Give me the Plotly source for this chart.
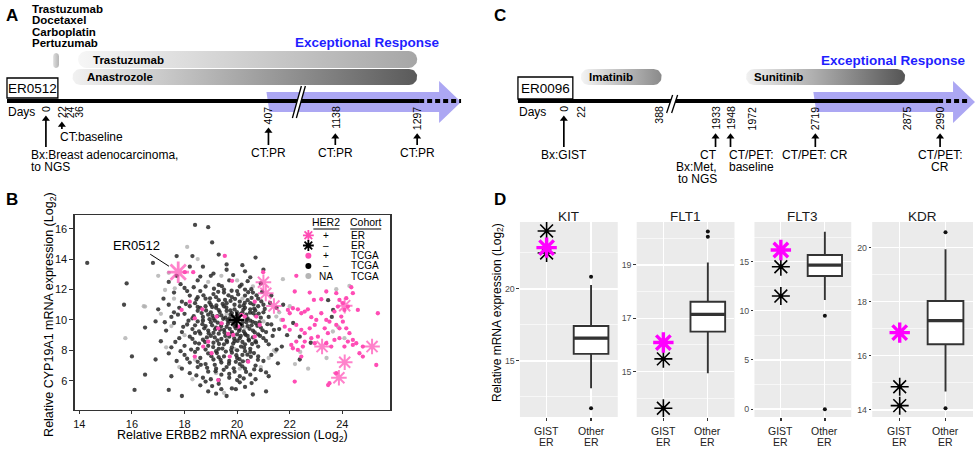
import numpy as np
import plotly.graph_objects as go

FONT = "Liberation Sans, Arial, Helvetica, sans-serif"
PINK = "#ff4db5"
MAGENTA = "#ff00ff"
BLUE = "#1f1fff"
LAV = "#aca7f3"

# ======================= DATA =======================
# ---- Panel A (ER0512 timeline) ----
A_ID = "ER0512"
A_CHEMO = ["Trastuzumab", "Docetaxel", "Carboplatin", "Pertuzumab"]
A_TICK_DAYS = [0, 22, 24, 36, 407, 1138, 1297]
A_EVENT_DAYS = [0, 22, 407, 1138, 1297]
A_EVENT_TEXT = [["Bx:Breast adenocarcinoma,", "to NGS"], ["CT:baseline"], ["CT:PR"], ["CT:PR"], ["CT:PR"]]
A_TREAT_NAME = ["", "Trastuzumab", "Anastrozole"]
A_TREAT_START = [10, 35, 27]
A_TREAT_END = [18, 1297, 1297]
A_RESPONSE_START = 407

# ---- Panel C (ER0096 timeline) ----
C_ID = "ER0096"
C_TICK_DAYS = [0, 22, 388, 1933, 1948, 1972, 2719, 2875, 2990]
C_EVENT_DAYS = [0, 1933, 1948, 2719, 2990]
C_EVENT_TEXT = [["Bx:GIST"], ["CT", "Bx:Met,", "to NGS"], ["CT/PET:", "baseline"], ["CT/PET: CR"], ["CT/PET:", "CR"]]
C_TREAT_NAME = ["Imatinib", "Sunitinib"]
C_TREAT_START = [22, 1965]
C_TREAT_END = [388, 2875]
C_RESPONSE_START = 2719

# ---- Panel B scatter (ERBB2 x, CYP19A1 y) ----
TCGA_NEG = [
    (14.3, 13.75), (16.8, 13.75), (18.4, 16.25), (18.9, 16.1), (19.05, 15.1), (19.3, 14.3), (18.3, 14.2),
    (19.6, 13.3), (20.7, 14.1), (20.2, 13.6), (21.0, 13.3), (18.7, 13.5), (17.7, 14.2),
    (15.8, 12.4), (17.4, 12.5), (18.0, 12.1), (18.5, 12.6), (19.0, 12.9), (19.3, 12.3), (19.7, 12.6),
    (20.1, 12.2), (20.5, 12.8), (20.9, 12.4), (18.8, 12.2), (19.5, 12.0), (20.3, 12.0), (17.7, 12.9),
    (15.7, 11.0), (17.2, 11.4), (17.6, 11.8), (17.9, 11.2), (18.2, 11.6), (18.4, 11.1), (18.6, 11.9),
    (18.8, 11.4), (19.0, 11.0), (19.1, 11.7), (19.3, 11.3), (19.5, 11.8), (19.6, 11.1), (19.8, 11.5),
    (20.0, 11.9), (20.1, 11.2), (20.3, 11.6), (20.5, 11.1), (20.6, 11.8), (20.8, 11.4), (21.0, 11.0),
    (21.3, 11.6), (18.1, 11.9), (19.9, 11.0), (20.4, 11.3), (19.2, 11.5), (18.5, 11.5), (17.4, 11.0),
    (17.0, 10.7), (17.5, 10.2), (17.8, 10.8), (18.0, 10.4), (18.2, 10.9), (18.3, 10.1), (18.5, 10.6),
    (18.7, 10.2), (18.8, 10.9), (19.0, 10.5), (19.1, 10.1), (19.2, 10.8), (19.4, 10.3), (19.5, 10.9),
    (19.6, 10.6), (19.7, 10.1), (19.9, 10.7), (20.0, 10.3), (20.1, 10.9), (20.2, 10.5), (20.4, 10.1),
    (20.5, 10.7), (20.7, 10.3), (20.8, 10.9), (21.0, 10.5), (21.2, 10.2), (21.5, 10.8), (18.9, 10.35),
    (19.3, 10.65), (19.8, 10.45), (20.3, 10.8), (20.6, 10.45), (18.6, 10.8), (17.6, 10.5), (19.05, 10.85),
    (20.9, 10.15), (16.5, 9.5), (16.9, 9.9), (17.3, 9.3), (17.6, 9.8), (17.9, 9.2), (18.1, 9.7),
    (18.3, 9.4), (18.5, 9.9), (18.6, 9.1), (18.8, 9.6), (18.9, 9.3), (19.0, 9.85), (19.2, 9.5),
    (19.3, 9.1), (19.4, 9.75), (19.5, 9.35), (19.7, 9.9), (19.8, 9.2), (19.9, 9.6), (20.1, 9.4),
    (20.2, 9.85), (20.3, 9.1), (20.4, 9.6), (20.6, 9.3), (20.7, 9.8), (20.9, 9.5), (21.1, 9.2),
    (21.3, 9.7), (21.6, 9.4), (21.9, 9.0), (18.4, 9.65), (19.1, 9.15), (19.6, 9.55), (20.0, 9.05),
    (20.5, 9.95), (18.7, 9.95), (19.85, 9.85), (20.8, 9.05), (17.1, 8.6), (17.5, 8.2), (17.8, 8.8),
    (18.0, 8.3), (18.2, 8.9), (18.4, 8.5), (18.5, 8.1), (18.7, 8.7), (18.9, 8.3), (19.0, 8.95),
    (19.1, 8.5), (19.3, 8.1), (19.4, 8.75), (19.5, 8.4), (19.7, 8.9), (19.8, 8.2), (19.9, 8.6),
    (20.0, 8.0), (20.1, 8.8), (20.3, 8.4), (20.4, 8.95), (20.5, 8.1), (20.7, 8.6), (20.8, 8.25),
    (21.0, 8.8), (21.2, 8.4), (21.5, 8.05), (18.8, 8.05), (19.6, 8.65), (20.2, 8.55), (18.3, 8.75),
    (19.15, 8.85), (20.6, 8.85), (16.0, 7.6), (16.9, 7.4), (17.4, 7.8), (17.7, 7.3), (18.0, 7.7),
    (18.2, 7.2), (18.4, 7.9), (18.6, 7.5), (18.8, 7.1), (18.9, 7.8), (19.1, 7.4), (19.2, 7.95),
    (19.4, 7.2), (19.5, 7.6), (19.7, 7.3), (19.8, 7.85), (20.0, 7.5), (20.1, 7.1), (20.2, 7.7),
    (20.4, 7.3), (20.5, 7.9), (20.7, 7.0), (20.8, 7.6), (21.0, 7.3), (21.3, 7.7), (19.3, 7.55),
    (19.95, 7.25), (18.5, 7.25), (20.3, 7.95), (16.5, 6.4), (17.5, 6.3), (17.9, 6.8), (18.2, 6.5),
    (18.5, 6.9), (18.7, 6.2), (18.9, 6.6), (19.0, 6.1), (19.2, 6.8), (19.4, 6.4), (19.6, 6.9),
    (19.7, 6.2), (19.9, 6.6), (20.1, 6.3), (20.3, 6.8), (20.5, 6.4), (20.7, 6.1), (20.9, 6.7),
    (21.2, 6.3), (19.3, 6.05), (20.2, 6.95), (16.1, 5.4), (17.4, 5.4), (17.9, 5.0), (18.6, 5.7),
    (18.9, 5.3), (19.3, 5.8), (19.6, 5.0), (19.8, 5.5), (20.3, 5.6), (20.6, 5.1), (19.2, 5.15),
    (20.1, 5.9), (21.1, 5.3), (18.65, 10.45), (18.95, 10.05), (19.25, 10.25), (19.55, 10.15),
    (19.75, 10.35), (20.05, 10.15), (20.35, 10.35), (20.65, 10.75), (18.75, 9.45), (19.05, 9.65),
    (19.35, 9.35), (19.65, 9.75), (19.95, 9.45), (20.25, 9.25), (20.55, 9.65), (18.85, 8.85),
    (19.25, 8.65), (19.55, 8.95), (19.85, 8.45), (20.15, 8.25), (20.45, 8.65), (18.95, 11.15),
    (19.45, 11.05), (19.75, 11.25), (20.25, 10.95), (20.55, 11.45), (18.55, 9.25), (20.85, 9.85),
    (19.15, 9.95), (20.35, 9.85), (23.46, 11.3), (23.6, 10.2), (23.65, 10.66), (22.13, 9.8),
    (21.75, 11.0), (22.38, 8.9), (21.7, 8.25), (22.38, 7.4), (22.8, 8.5),
    (18.35, 10.25), (18.45, 11.35), (18.55, 8.45), (18.62, 7.05), (18.68, 9.72), (18.72, 11.62),
    (18.78, 8.55), (18.82, 10.62), (18.86, 6.85), (18.92, 9.12), (18.97, 11.42), (19.02, 7.62),
    (19.06, 10.28), (19.09, 8.22), (19.12, 12.05), (19.16, 9.38), (19.18, 6.62), (19.21, 10.95),
    (19.23, 7.82), (19.26, 9.82), (19.28, 11.85), (19.31, 8.42), (19.34, 10.52), (19.37, 7.38),
    (19.39, 9.58), (19.42, 12.22), (19.44, 8.12), (19.47, 10.08), (19.49, 6.72), (19.52, 9.18),
    (19.54, 11.32), (19.57, 7.92), (19.59, 10.82), (19.62, 8.55), (19.64, 9.98), (19.67, 11.62),
    (19.69, 7.12), (19.72, 9.42), (19.74, 10.62), (19.77, 8.02), (19.79, 11.92), (19.82, 9.08),
    (19.84, 10.22), (19.87, 6.82), (19.89, 8.78), (19.92, 11.38), (19.94, 9.72), (19.97, 7.68),
    (19.99, 10.52), (20.02, 8.62), (20.04, 11.68), (20.07, 9.28), (20.09, 7.42), (20.12, 10.38),
    (20.14, 8.95), (20.17, 12.32), (20.19, 9.62), (20.22, 7.28), (20.24, 10.68), (20.27, 8.18),
    (20.29, 11.12), (20.32, 9.02), (20.34, 6.58), (20.37, 10.02), (20.39, 7.72), (20.42, 11.82),
    (20.44, 8.72), (20.47, 9.42), (20.49, 10.48), (20.52, 7.58), (20.54, 12.02), (20.57, 8.42),
    (20.59, 9.88), (20.62, 11.02), (20.64, 7.82), (20.67, 9.18), (20.69, 10.62), (20.72, 8.52),
    (20.74, 11.62), (20.77, 9.62), (20.79, 7.38), (20.82, 10.42), (20.87, 8.95), (20.92, 11.22),
    (20.97, 9.32), (21.05, 10.72), (21.1, 8.62), (21.15, 9.72), (21.25, 11.12), (21.35, 8.95),
    (18.4, 9.15), (18.5, 10.85), (18.25, 8.05), (18.15, 9.95), (18.05, 11.05), (17.95, 9.55),
    (17.85, 7.95), (17.75, 10.35), (18.35, 12.15), (18.6, 12.85), (19.1, 13.05), (19.85, 12.95),
    (20.4, 12.55), (20.95, 11.85), (21.4, 9.35), (21.55, 7.15), (21.1, 6.55), (20.55, 5.85),
    (19.95, 5.45), (19.05, 5.65), (18.45, 6.35), (18.1, 7.45), (17.65, 8.55), (17.25, 9.85),
    (17.85, 12.35), (19.6, 13.65), (20.3, 13.2), (18.2, 13.5), (19.15, 7.05), (19.7, 6.45),
    (20.25, 6.15), (20.65, 6.75), (18.8, 5.95), (19.4, 5.45), (20.0, 6.05),
]
TCGA_POS = [
    (22.25, 12.9), (22.19, 11.87), (22.76, 11.8), (22.92, 11.32), (23.2, 11.36), (23.39, 11.87),
    (23.77, 11.76), (24.4, 11.76), (24.34, 12.15), (21.93, 10.66), (22.0, 10.44), (22.12, 10.77),
    (22.31, 10.7), (22.44, 10.44), (22.57, 10.55), (22.69, 10.7), (22.82, 10.18), (23.01, 10.0),
    (23.2, 10.44), (23.39, 10.0), (23.51, 9.89), (23.7, 10.55), (23.83, 10.88), (23.96, 10.22),
    (24.08, 10.66), (24.21, 10.88), (24.59, 10.66), (21.74, 10.0), (21.81, 9.56), (22.0, 9.35),
    (22.25, 9.67), (22.44, 9.35), (22.57, 9.13), (22.76, 9.45), (22.95, 9.67), (23.07, 8.9),
    (23.33, 9.45), (23.45, 9.13), (23.77, 9.67), (23.89, 9.45), (24.02, 9.89), (24.15, 9.45),
    (24.27, 9.13), (24.4, 8.69), (24.53, 8.47), (22.06, 8.36), (22.12, 8.14), (22.25, 8.58),
    (22.5, 8.25), (22.57, 8.58), (22.82, 8.8), (22.95, 8.47), (23.39, 8.47), (23.58, 8.25),
    (23.7, 8.69), (23.89, 8.8), (24.08, 8.25), (24.21, 8.58), (24.4, 8.36), (24.78, 8.25),
    (24.78, 7.59), (24.65, 7.81), (22.31, 8.03), (22.44, 7.59), (22.19, 5.95), (23.51, 5.84),
    (23.77, 6.5), (25.35, 10.44), (25.29, 7.04), (24.15, 11.43), (24.02, 11.1), (23.89, 11.32),
    (20.99, 13.14), (23.46, 5.72), (19.53, 14.21), (18.01, 13.14), (18.33, 13.14), (19.81, 12.57),
    (18.2, 11.2), (18.68, 10.7), (17.89, 10.66), (19.22, 10.22), (18.39, 10.11), (19.41, 9.78),
    (20.17, 10.33), (20.04, 9.56), (19.28, 9.45), (19.85, 9.01), (18.9, 8.57), (19.66, 9.08),
    (20.67, 11.2), (20.67, 8.9), (19.03, 7.81), (18.71, 8.25), (18.39, 7.59), (19.72, 7.59),
    (19.28, 6.05), (20.29, 10.22), (20.73, 10.22), (20.86, 9.67), (20.42, 7.26),
]
TCGA_NA = [
    (15.75, 8.8), (16.45, 10.9), (17.0, 12.9), (17.4, 13.1), (18.5, 14.0), (18.1, 14.8), (17.6, 11.4),
    (17.1, 10.4), (17.3, 8.2), (17.8, 6.9), (18.3, 6.1), (19.5, 5.2), (20.1, 6.8), (21.2, 7.5),
    (21.0, 9.9), (21.6, 10.5), (21.4, 8.0), (22.0, 10.9), (22.2, 7.1), (22.4, 7.9), (23.4, 7.5),
    (21.74, 12.68), (24.27, 12.24), (23.77, 12.02), (21.49, 10.22), (21.68, 10.0), (23.64, 9.24),
    (24.08, 8.8), (23.83, 9.56), (21.46, 7.92), (18.0, 9.0), (18.9, 12.5), (19.4, 12.9), (20.0, 12.6),
    (20.6, 12.2), (19.2, 6.5), (18.4, 7.4), (20.9, 6.9), (17.5, 9.6), (19.6, 10.4), (20.3, 9.5),
    (18.7, 10.0), (19.9, 8.1), (20.2, 11.4), (22.7, 6.8), (17.63, 12.08), (17.26, 11.97), (16.5, 10.88),
]
ER_POS = [(17.76, 13.14), (21.0, 12.48), (21.09, 11.75), (21.4, 10.92), (24.09, 10.94),
          (23.23, 8.25), (25.13, 8.25), (24.09, 7.22), (23.87, 6.2)]
ER_NEG = [(19.98, 10.0)]
LEG_HER2 = ["+", "\u2013", "+", "\u2013", "NA"]
LEG_COHORT = ["ER", "ER", "TCGA", "TCGA", "TCGA"]

# ---- Panel D boxplots ----
D_GENES = ["KIT", "FLT1", "FLT3", "KDR"]
D_CATS = ["GIST ER", "Other ER"]
GIST_PINK = [22.87, 16.09, 16.19, 16.86]
GIST_BLACK = [[24.03, 22.5], [15.48, 13.63], [14.49, 11.5], [14.86, 14.16]]
OTHER_Q1 = [15.49, 16.5, 13.54, 16.43]
OTHER_MED = [16.58, 17.15, 14.66, 17.3]
OTHER_Q3 = [17.43, 17.62, 15.68, 18.03]
OTHER_LO = [13.1, 14.94, 11.1, 14.68]
OTHER_HI = [20.28, 19.09, 18.05, 19.94]
OTHER_OUT = [[20.85, 11.71], [20.25, 20.06], [9.5, -0.03], [20.57, 14.06]]
D_TICKS = [[15, 20], [15, 17, 19], [0, 5, 10, 15], [14, 16, 18, 20]]
D_MINOR = [[12.5, 17.5, 22.5], [14, 16, 18, 20], [2.5, 7.5, 12.5, 17.5], [15, 17, 19]]
D_YRANGE = [[11.11, 24.65], [13.3, 20.61], [-0.81, 19.04], [13.74, 20.95]]

# ======================= FIGURE =======================
fig = go.Figure()
ann, shp = [], []


def T(x, y, s, size=12, bold=False, color="#000", xa="center", ya="middle", angle=0):
    ann.append(dict(x=x, y=y, xref="x6", yref="y6", text=f"<b>{s}</b>" if bold else s,
                    showarrow=False, font=dict(family=FONT, size=size, color=color),
                    xanchor=xa, yanchor=ya, textangle=angle, borderpad=0))


def ov(**kw):
    fig.add_trace(go.Scatter(xaxis="x6", yaxis="y6", hoverinfo="skip", showlegend=False, **kw))


def rounded(x0, x1, y0, y1, n=10):
    r = min(x1 - x0, y1 - y0) / 2
    xs, ys = [], []
    for cx, cy, a0 in [(x1 - r, y0 + r, -np.pi / 2), (x1 - r, y1 - r, 0),
                       (x0 + r, y1 - r, np.pi / 2), (x0 + r, y0 + r, np.pi)]:
        t = np.linspace(a0, a0 + np.pi / 2, n)
        xs += list(cx + r * np.cos(t))
        ys += list(cy + r * np.sin(t))
    xs.append(xs[0]); ys.append(ys[0])
    return xs, ys


def pill(x0, x1, y0, y1, c0, c1):
    xs, ys = rounded(x0, x1, y0, y1)
    ov(x=xs, y=ys, mode="lines", line=dict(width=0, color="rgba(0,0,0,0)"), fill="toself",
       fillgradient=dict(type="horizontal", colorscale=[[0, c0], [1, c1]]))


def timeline(cfg):
    kd, kp = cfg["ticks"], cfg["knot_px"]
    P = lambda d: float(np.interp(d, kd, kp))
    Y = 101
    xs = P(cfg["resp"]) - 2
    hx, tip = cfg["head_x"], cfg["tip_x"]
    ov(x=[xs, hx, hx, tip, hx, hx, xs + 3, xs], y=[92, 92, 81, 102, 123, 112, 112, 92],
       mode="lines", line=dict(width=0, color=LAV), fill="toself", fillcolor=LAV)
    T((xs + tip) / 2 + cfg["resp_text_dx"], cfg["resp_text_y"], "Exceptional Response", size=13.5, bold=True, color=BLUE)
    for name, s, e, (y0, y1), (c0, c1), extra, lab in zip(cfg["tname"], cfg["tstart"], cfg["tend"],
                                                          cfg["trow"], cfg["tcol"], cfg["textra"], cfg["tlab"]):
        x0, x1 = P(s), P(e) + extra
        pill(x0, x1, y0, y1, c0, c1)
        if name:
            T(x0 + lab, (y0 + y1) / 2, name, size=11.5, bold=True, xa="left")
    ov(x=[cfg["x0"], cfg["solid_end"]], y=[Y, Y], mode="lines", line=dict(color="#000", width=4))
    ov(x=[cfg["solid_end"], cfg["dot_end"]], y=[Y, Y], mode="lines",
       line=dict(color="#000", width=4, dash="5px,3px"))
    tl, tr, bl, br, by0, by1 = cfg["brk"]
    ov(x=[tl, tr, br, bl, tl], y=[by0, by0, by1, by1, by0], mode="lines",
       line=dict(width=0, color="white"), fill="toself", fillcolor="white")
    ov(x=[tl, bl, None, tr, br], y=[by0, by1, None, by0, by1], mode="lines",
       line=dict(color="#000", width=1.3))
    bx0, by0_, bx1, by1_ = cfg["box"]
    shp.append(dict(type="rect", xref="x6", yref="y6", x0=bx0, x1=bx1, y0=by0_, y1=by1_,
                    line=dict(color="#000", width=1.3), fillcolor="white"))
    T((bx0 + bx1) / 2, (by0_ + by1_) / 2 + 0.5, cfg["id"], size=13.5)
    T(cfg["x0"], 112, "Days", size=12, xa="left")
    for d in kd:
        T(P(d), 105, str(d), size=10.5, angle=-90, ya="top")
    ax, ay, mx, my = [], [], [], []
    for d, lines, (anc, dx), ty in zip(cfg["edays"], cfg["etext"], cfg["ealign"], cfg["ety"]):
        x = P(d)
        head = 105 + 5.9 * len(str(d)) + 5
        ax += [x, x, None]; ay += [ty - 8, head + 4, None]
        mx.append(x); my.append(head + 3.2)
        for k, s in enumerate(lines):
            T(x + dx, ty + 12 * k, s, size=12, xa=anc)
    ov(x=ax, y=ay, mode="lines", line=dict(color="#000", width=1.7))
    ov(x=mx, y=my, mode="markers", marker=dict(symbol="triangle-up", size=7, color="#000"))


timeline(dict(
    id=A_ID, ticks=A_TICK_DAYS, knot_px=[44, 60, 68.5, 77, 267, 334, 416],
    resp=A_RESPONSE_START, head_x=438, tip_x=460, resp_text_dx=4, resp_text_y=42,
    tname=A_TREAT_NAME, tstart=A_TREAT_START, tend=A_TREAT_END,
    trow=[(53, 68), (51, 68), (69, 85)],
    tcol=[("#dedede", "#b4b4b4"), ("#f6f6f6", "#a6a6a6"), ("#f1f1f1", "#5a5a5a")],
    textra=[0, 0, 0], tlab=[0, 14, 14],
    x0=5, solid_end=418, dot_end=460, brk=(300, 304, 291, 295, 86, 118),
    box=(5, 78, 56, 98),
    edays=A_EVENT_DAYS, etext=A_EVENT_TEXT,
    ealign=[("left", -16), ("left", -3), ("center", 0), ("center", 0), ("center", 0)],
    ety=[155, 137, 153, 153, 153],
))
timeline(dict(
    id=C_ID, ticks=C_TICK_DAYS, knot_px=[563, 580, 658, 715, 730, 752, 815, 907, 940],
    resp=C_RESPONSE_START, head_x=953, tip_x=975, resp_text_dx=-1, resp_text_y=60,
    tname=C_TREAT_NAME, tstart=C_TREAT_START, tend=C_TREAT_END,
    trow=[(69, 85), (69, 85)],
    tcol=[("#f4f4f4", "#8a8a8a"), ("#f1f1f1", "#555555")],
    textra=[3, -2], tlab=[7, 7],
    x0=517, solid_end=938, dot_end=970, brk=(672, 677, 666, 671, 95, 113),
    box=(517, 77, 572, 99),
    edays=C_EVENT_DAYS, etext=C_EVENT_TEXT,
    ealign=[("center", 0), ("right", 2), ("left", -3), ("center", 0), ("center", 0)],
    ety=[155, 155, 155, 155, 155],
))

for k, s in enumerate(A_CHEMO):
    T(29, 8.5 + 11.6 * k, s, size=11.5, bold=True, xa="left")

for s, x, y in [("A", 10, 15.5), ("B", 10, 199), ("C", 499, 15.5), ("D", 499, 199)]:
    T(x, y, s, size=17, bold=True)

# ---------------- Panel B ----------------
def xy(pts):
    return [p[0] for p in pts], [p[1] for p in pts]

x, y = xy(TCGA_NA)
fig.add_trace(go.Scatter(x=x, y=y, mode="markers", marker=dict(size=4.3, color="rgba(175,175,175,0.8)"), hoverinfo="skip"))
x, y = xy(TCGA_NEG)
fig.add_trace(go.Scatter(x=x, y=y, mode="markers", marker=dict(size=4.3, color="rgba(40,40,40,0.85)"), hoverinfo="skip"))
x, y = xy(TCGA_POS)
fig.add_trace(go.Scatter(x=x, y=y, mode="markers", marker=dict(size=4.3, color=PINK), hoverinfo="skip"))
x, y = xy(ER_NEG)
fig.add_trace(go.Scatter(x=x, y=y, mode="markers",
                         marker=dict(symbol="asterisk-open", size=13, color="#000",
                                     line=dict(color="#000", width=2.2)), hoverinfo="skip"))
x, y = xy(ER_POS)
fig.add_trace(go.Scatter(x=x, y=y, mode="markers",
                         marker=dict(symbol="asterisk-open", size=[18] + [13] * (len(x) - 1), color=PINK,
                                     line=dict(color=PINK, width=[2.8] + [2] * (len(x) - 1))), hoverinfo="skip"))
ann.append(dict(x=ER_POS[0][0], y=ER_POS[0][1], xref="x", yref="y", text=A_ID, showarrow=True,
                ax=-42, ay=-27, arrowhead=0, arrowwidth=1, arrowcolor="#000", standoff=11,
                font=dict(family=FONT, size=13, color="#000")))

LEG_Y = [235.3, 245.5, 255.7, 265.9, 276.1]
leg_sym = ["asterisk-open", "asterisk-open", "circle", "circle", "circle"]
leg_col = [PINK, "#000", PINK, "#000", "#b5b5b5"]
leg_size = [9, 9, 6, 6, 6]
for yy, sy, c, sz, h, co in zip(LEG_Y, leg_sym, leg_col, leg_size, LEG_HER2, LEG_COHORT):
    if sy == "asterisk-open":
        mk = dict(symbol=sy, size=sz, color=c, line=dict(color=c, width=1.8))
    else:
        mk = dict(symbol=sy, size=sz, color=c)
    ov(x=[307], y=[yy], mode="markers", marker=mk)
    T(325, yy, h, size=10)
    T(349, yy, co, size=10, xa="left")
T(325, 222, "HER2", size=10.5)
T(364.5, 222, "Cohort", size=10.5)
for x0, x1 in [(312, 338), (349, 380)]:
    shp.append(dict(type="line", xref="x6", yref="y6", x0=x0, x1=x1, y0=229, y1=229,
                    line=dict(color="#000", width=1)))

T(231, 436, "Relative ERBB2 mRNA expression (Log<sub>2</sub>)", size=12.5)
T(48, 314, "Relative CYP19A1 mRNA expression (Log<sub>2</sub>)", size=12.5, angle=-90)

# ---------------- Panel D ----------------
D_XDOM = [(519, 617), (636, 734), (754, 851), (872, 973)]
D_YDOM = [1 - 417 / 450, 1 - 222 / 450]
BOXW = 0.78
layout_axes = {}
for i, g in enumerate(D_GENES):
    n = i + 2
    xa, ya = f"x{n}", f"y{n}"
    fig.add_trace(go.Box(x=[D_CATS[1]], q1=[OTHER_Q1[i]], median=[OTHER_MED[i]], q3=[OTHER_Q3[i]],
                         lowerfence=[OTHER_LO[i]], upperfence=[OTHER_HI[i]], boxpoints=False,
                         width=BOXW, whiskerwidth=0, fillcolor="white",
                         line=dict(color="#333333", width=1.9), xaxis=xa, yaxis=ya, hoverinfo="skip"))
    shp.append(dict(type="line", xref=xa, yref=ya, x0=1 - BOXW / 2, x1=1 + BOXW / 2,
                    y0=OTHER_MED[i], y1=OTHER_MED[i], line=dict(color="#333333", width=3.2)))
    fig.add_trace(go.Scatter(x=[D_CATS[1]] * len(OTHER_OUT[i]), y=OTHER_OUT[i], mode="markers",
                             marker=dict(size=4, color="#111"), xaxis=xa, yaxis=ya, hoverinfo="skip"))
    fig.add_trace(go.Scatter(x=[D_CATS[0]] * len(GIST_BLACK[i]), y=GIST_BLACK[i], mode="markers",
                             marker=dict(symbol="asterisk-open", size=15, color="#000",
                                         line=dict(color="#000", width=1.6)),
                             xaxis=xa, yaxis=ya, hoverinfo="skip"))
    if i > 0:
        fig.add_trace(go.Scatter(x=[D_CATS[0]] * len(GIST_BLACK[i]), y=GIST_BLACK[i], mode="markers",
                                 marker=dict(size=4.5, color="#000"), xaxis=xa, yaxis=ya, hoverinfo="skip"))
    fig.add_trace(go.Scatter(x=[D_CATS[0]], y=[GIST_PINK[i]], mode="markers",
                             marker=dict(symbol="asterisk-open", size=17, color=MAGENTA,
                                         line=dict(color=MAGENTA, width=3.4)),
                             xaxis=xa, yaxis=ya, hoverinfo="skip"))
    shp.append(dict(type="rect", xref=f"{xa} domain", yref=f"{ya} domain", x0=0, x1=1, y0=0, y1=1,
                    fillcolor="#ebebeb", line=dict(width=0), layer="below"))
    x0p, x1p = D_XDOM[i]
    layout_axes[f"xaxis{n}"] = dict(domain=[x0p / 975, x1p / 975], anchor=ya, type="category",
                                    categoryorder="array", categoryarray=D_CATS, range=[-0.6, 1.6],
                                    showgrid=True, gridcolor="white", gridwidth=1.2, ticks="outside",
                                    ticklen=3, tickcolor="#333", tickwidth=1.3, showticklabels=False,
                                    zeroline=False, showline=False, fixedrange=True)
    layout_axes[f"yaxis{n}"] = dict(domain=D_YDOM, anchor=xa, range=D_YRANGE[i], tickvals=D_TICKS[i],
                                    showgrid=True, gridcolor="white", gridwidth=1.2, ticks="outside",
                                    ticklen=2.5, tickcolor="#333", tickwidth=1,
                                    tickfont=dict(family=FONT, size=8.8, color="#4d4d4d"),
                                    minor=dict(tickvals=D_MINOR[i], showgrid=True, gridcolor="white",
                                               gridwidth=0.6, ticks=""),
                                    zeroline=False, showline=False, fixedrange=True)
    T((x0p + x1p) / 2, 216, g, size=13.5, color="#1a1a1a")
    for cat in D_CATS:
        for k, word in enumerate(cat.split(" ")):
            ann.append(dict(x=cat, y=1 - (431 + 11 * k) / 450, xref=xa, yref="paper", text=word,
                            showarrow=False, font=dict(family=FONT, size=10.5, color="#222"),
                            xanchor="center", yanchor="middle", borderpad=0))

T(497, 312, "Relative mRNA expression (Log<sub>2</sub>)", size=12, angle=-90)

fig.update_layout(
    width=975, height=450, margin=dict(l=0, r=0, t=0, b=0), autosize=False,
    paper_bgcolor="white", plot_bgcolor="rgba(0,0,0,0)", showlegend=False,
    font=dict(family=FONT, color="#000"),
    xaxis=dict(domain=[73 / 975, 389 / 975], anchor="y", range=[13.83, 25.82], tickvals=[14, 16, 18, 20, 22, 24],
               showgrid=False, zeroline=False, showline=True, mirror=True, linecolor="#333", linewidth=1.4,
               ticks="outside", ticklen=3, tickcolor="#333", tickfont=dict(family=FONT, size=11, color="#111"),
               fixedrange=True),
    yaxis=dict(domain=[1 - 410 / 450, 1 - 215 / 450], anchor="x", range=[4.08, 16.9],
               tickvals=[6, 8, 10, 12, 14, 16], showgrid=False, zeroline=False, showline=True, mirror=True,
               linecolor="#333", linewidth=1.4, ticks="outside", ticklen=4, tickcolor="#333",
               tickfont=dict(family=FONT, size=11, color="#111"), fixedrange=True),
    xaxis6=dict(domain=[0, 1], anchor="y6", range=[0, 975], visible=False, fixedrange=True),
    yaxis6=dict(domain=[0, 1], anchor="x6", range=[450, 0], visible=False, fixedrange=True),
    annotations=ann, shapes=shp,
    **layout_axes,
)

fig.write_html("out.html", config={"displayModeBar": False, "staticPlot": True},
               post_script="document.body.style.margin='0';document.body.style.overflow='hidden';")
